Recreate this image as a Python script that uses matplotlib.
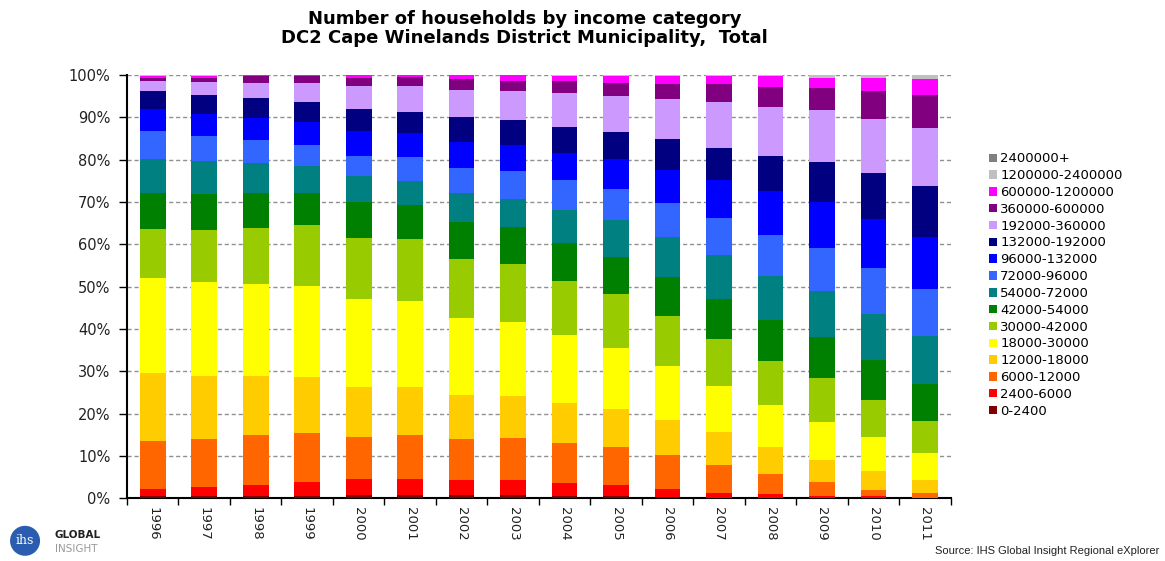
import numpy as np
import matplotlib.pyplot as plt
from matplotlib.patches import Patch, Ellipse

# Households by income category, share of total (%)
years = ["1996", "1997", "1998", "1999", "2000", "2001", "2002", "2003",
         "2004", "2005", "2006", "2007", "2008", "2009", "2010", "2011"]

categories = ["0-2400", "2400-6000", "6000-12000", "12000-18000", "18000-30000",
              "30000-42000", "42000-54000", "54000-72000", "72000-96000",
              "96000-132000", "132000-192000", "192000-360000", "360000-600000",
              "600000-1200000", "1200000-2400000", "2400000+"]

colors = ["#800000", "#FF0000", "#FF6600", "#FFCC00", "#FFFF00", "#99CC00",
          "#008000", "#008080", "#3366FF", "#0000FF", "#000080", "#CC99FF",
          "#800080", "#FF00FF", "#C0C0C0", "#808080"]

# one list per year, in category order
share_1996 = [0.6, 1.6, 11.2, 16.3, 22.3, 11.7, 8.5, 8.0, 6.6, 5.3, 4.2, 2.4, 0.7, 0.5, 0.1, 0.0]
share_1997 = [0.55, 2.15, 11.4, 14.8, 22.2, 12.4, 8.5, 7.7, 5.9, 5.3, 4.4, 3.1, 1.0, 0.5, 0.1, 0.0]
share_1998 = [0.55, 2.55, 11.8, 14.0, 21.7, 13.3, 8.3, 7.0, 5.4, 5.3, 4.7, 3.6, 1.7, 0.1, 0.0, 0.0]
share_1999 = [0.55, 3.35, 11.5, 13.3, 21.5, 14.3, 7.7, 6.3, 5.1, 5.4, 4.6, 4.6, 1.7, 0.1, 0.0, 0.0]
share_2000 = [0.8, 3.7, 9.9, 11.9, 20.7, 14.5, 8.5, 6.1, 4.8, 5.9, 5.3, 5.4, 1.9, 0.6, 0.0, 0.0]
share_2001 = [0.8, 3.7, 10.5, 11.3, 20.4, 14.6, 8.0, 5.6, 5.7, 5.7, 5.1, 6.1, 2.1, 0.4, 0.0, 0.0]
share_2002 = [0.8, 3.4, 9.7, 10.5, 18.2, 14.0, 8.8, 6.8, 5.9, 6.1, 5.8, 6.5, 2.5, 1.0, 0.0, 0.0]
share_2003 = [0.8, 3.4, 10.0, 9.9, 17.6, 13.6, 8.7, 6.7, 6.6, 6.2, 5.8, 7.0, 2.4, 1.3, 0.0, 0.0]
share_2004 = [0.6, 3.1, 9.4, 9.3, 16.1, 12.9, 9.0, 7.7, 7.1, 6.5, 6.1, 7.9, 2.9, 1.3, 0.1, 0.0]
share_2005 = [0.55, 2.45, 9.0, 9.0, 14.6, 12.6, 8.8, 8.7, 7.3, 7.1, 6.5, 8.5, 3.1, 1.7, 0.1, 0.0]
share_2006 = [0.3, 1.9, 7.9, 8.4, 12.8, 11.8, 9.2, 9.4, 8.1, 7.8, 7.3, 9.4, 3.6, 1.9, 0.2, 0.0]
share_2007 = [0.15, 1.15, 6.6, 7.8, 10.8, 11.2, 9.5, 10.2, 8.8, 9.0, 7.7, 10.7, 4.2, 2.0, 0.2, 0.0]
share_2008 = [0.1, 0.8, 4.8, 6.5, 9.8, 10.4, 9.7, 10.4, 9.8, 10.2, 8.5, 11.4, 4.8, 2.5, 0.3, 0.0]
share_2009 = [0.1, 0.5, 3.2, 5.3, 9.0, 10.2, 9.9, 10.7, 10.2, 11.0, 9.4, 12.2, 5.3, 2.4, 0.6, 0.0]
share_2010 = [0.05, 0.35, 1.6, 4.5, 7.9, 8.8, 9.5, 10.8, 10.8, 11.6, 11.0, 12.8, 6.6, 3.1, 0.6, 0.0]
share_2011 = [0.02, 0.08, 1.2, 2.9, 6.5, 7.6, 8.8, 11.3, 11.0, 12.3, 12.2, 13.7, 7.8, 3.6, 0.95, 0.05]

shares = np.array([share_1996, share_1997, share_1998, share_1999, share_2000,
                   share_2001, share_2002, share_2003, share_2004, share_2005,
                   share_2006, share_2007, share_2008, share_2009, share_2010,
                   share_2011])
# normalise each year to 100%
shares = shares / shares.sum(axis=1, keepdims=True) * 100

fig = plt.figure(figsize=(11.65, 5.61), dpi=100)
ax = fig.add_axes([0.109, 0.112, 0.707, 0.754])

x = np.arange(len(years))
bottom = np.zeros(len(years))
for i, cat in enumerate(categories):
    ax.bar(x, shares[:, i], width=0.5, bottom=bottom, color=colors[i],
           label=cat, zorder=3, linewidth=0)
    bottom += shares[:, i]

ax.set_xlim(-0.5, len(years) - 0.5)
ax.set_ylim(0, 100)

ax.set_yticks(np.arange(0, 101, 10))
ax.set_yticklabels([f"{v}%" for v in range(0, 101, 10)], fontsize=10.5, color="#222222")
ax.yaxis.grid(True, linestyle=(0, (3, 2)), color="#909090", linewidth=1.0, zorder=0)

ax.set_xticks(x)
ax.set_xticklabels(years, rotation=270, fontsize=9.5, color="#222222")
ax.set_xticks(np.arange(-0.5, len(years), 1), minor=True)
ax.tick_params(axis="x", which="major", length=0, pad=6)
ax.tick_params(axis="x", which="minor", length=5, width=1, direction="out")
ax.tick_params(axis="y", length=6, width=1, direction="out", pad=6)

for side in ["top", "right"]:
    ax.spines[side].set_visible(False)
ax.spines["left"].set_linewidth(1.5)
ax.spines["bottom"].set_linewidth(1.5)

handles = [Patch(facecolor=c, edgecolor="none") for c in colors]
ax.legend(handles[::-1], categories[::-1], loc="upper left",
          bbox_to_anchor=(1.04, 0.83), frameon=False, fontsize=9.5,
          handlelength=0.6, handleheight=0.6, handletextpad=0.25,
          labelspacing=0.29, borderaxespad=0)

fig.text(0.45, 0.966, "Number of households by income category", ha="center",
         va="center", fontsize=13, fontweight="bold")
fig.text(0.45, 0.933, "DC2 Cape Winelands District Municipality,  Total",
         ha="center", va="center", fontsize=13, fontweight="bold")

fig.text(0.995, 0.018, "Source: IHS Global Insight Regional eXplorer", ha="right",
         va="center", fontsize=8, family="Liberation Sans", color="#222222")

# small IHS logo
logo = Ellipse((0.0215, 0.036), 30 / 1165, 30 / 561, transform=fig.transFigure,
               facecolor="#2a5db0", edgecolor="none")
fig.patches.append(logo)
fig.text(0.0215, 0.036, "ihs", ha="center", va="center", fontsize=9,
         color="white", family="DejaVu Serif")
fig.text(0.047, 0.046, "GLOBAL", ha="left", va="center", fontsize=7.5,
         fontweight="bold", color="#222222")
fig.text(0.047, 0.022, "INSIGHT", ha="left", va="center", fontsize=7.5,
         color="#999999")

fig.savefig("out.png", dpi=100)
